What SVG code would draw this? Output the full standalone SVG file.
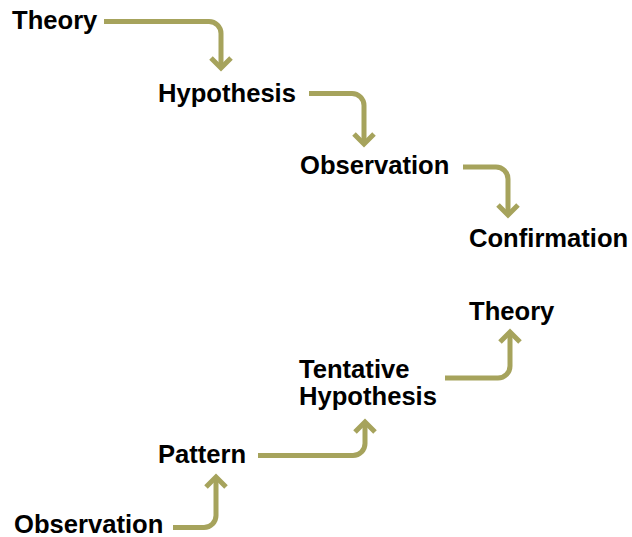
<svg xmlns="http://www.w3.org/2000/svg" width="632" height="537" viewBox="0 0 632 537">
<style>
text{font-family:"Liberation Sans",Arial,sans-serif;font-weight:bold;font-size:25.6px;fill:#000}
.c{fill:none;stroke:#a6a35c;stroke-width:5;stroke-linejoin:miter;stroke-linecap:butt}
</style>
<rect width="632" height="537" fill="#fff"/>
<g id="connectors">
<path class="c" d="M104,21.5 H209 A12,12 0 0 1 221,33.5 V68"/>
<path class="c" d="M211,58 L221,68 L231,58"/>
<path class="c" d="M309,93.5 H352 A12,12 0 0 1 364,105.5 V144"/>
<path class="c" d="M354,134 L364,144 L374,134"/>
<path class="c" d="M463,167 H496 A12,12 0 0 1 508,179 V215"/>
<path class="c" d="M498,205 L508,215 L518,205"/>
<path class="c" d="M173,527.5 H204 A12,12 0 0 0 216,515.5 V477"/>
<path class="c" d="M206,487 L216,477 L226,487"/>
<path class="c" d="M258,455.5 H353 A12,12 0 0 0 365,443.5 V422"/>
<path class="c" d="M355,432 L365,422 L375,432"/>
<path class="c" d="M445,378 H498 A12,12 0 0 0 510,366 V332"/>
<path class="c" d="M500,342 L510,332 L520,342"/>
</g>
<g id="theory1"><text x="12" y="29">Theory</text></g>
<g id="hypothesis1"><text x="158" y="102">Hypothesis</text></g>
<g id="observation1"><text x="300" y="174">Observation</text></g>
<g id="confirmation"><text x="469" y="247">Confirmation</text></g>
<g id="theory2"><text x="469" y="320">Theory</text></g>
<g id="tentative"><text x="299" y="378">Tentative</text><text x="299" y="405">Hypothesis</text></g>
<g id="pattern"><text x="158" y="463">Pattern</text></g>
<g id="observation2"><text x="14" y="533">Observation</text></g>
</svg>
